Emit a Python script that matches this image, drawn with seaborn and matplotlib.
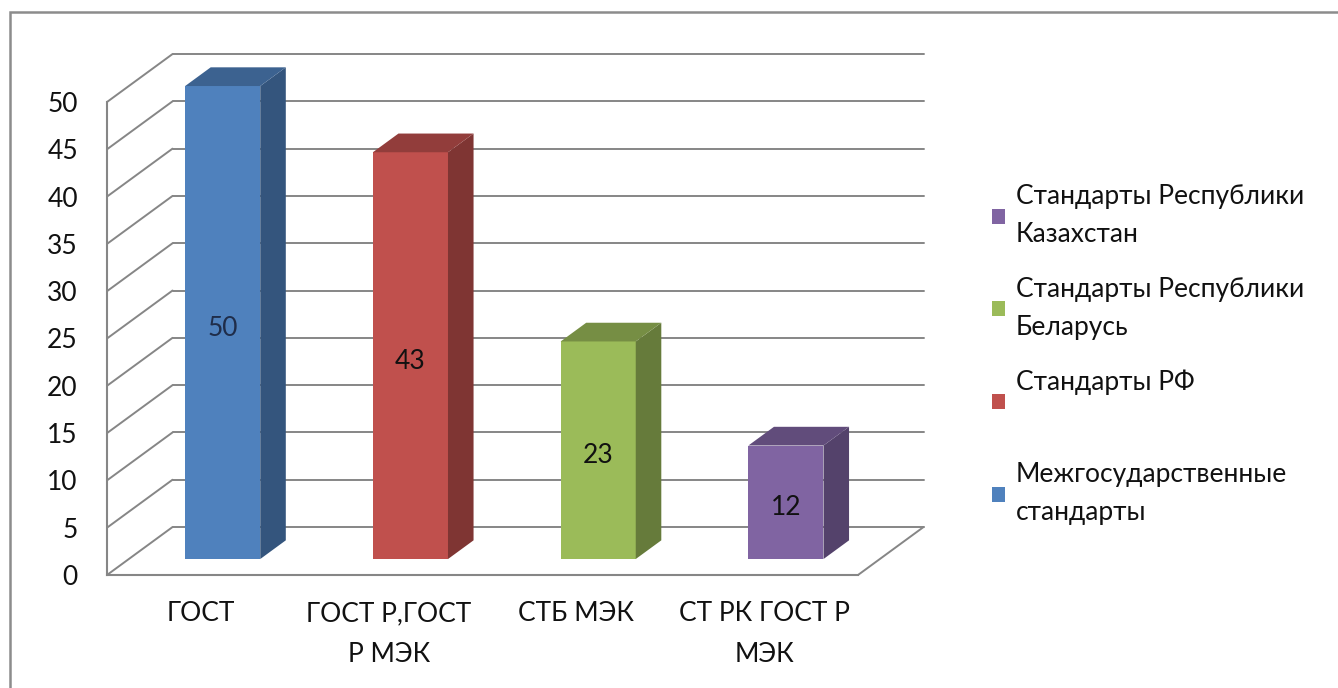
import matplotlib
matplotlib.use("Agg")
import matplotlib.pyplot as plt
import matplotlib.transforms as mtransforms
from matplotlib.patches import Polygon, Rectangle, Patch
import seaborn as sns
import pandas as pd

# данные
categories = ["ГОСТ", "ГОСТ Р,ГОСТ\nР МЭК", "СТБ МЭК", "СТ РК ГОСТ Р\nМЭК"]
values = [50, 43, 23, 12]
series = ["Межгосударственные\nстандарты", "Стандарты РФ\n",
          "Стандарты Республики\nБеларусь", "Стандарты Республики\nКазахстан"]
colors = ["#4F81BD", "#C0504D", "#9BBB59", "#8064A2"]
yticks = list(range(0, 55, 5))

df = pd.DataFrame({"cat": categories, "val": values, "ser": series})

sns.set_style("white")
plt.rcParams["font.family"] = ["Lato", "DejaVu Sans"]

GRID = "#868686"
TXT = "#111111"
FS = 19
DX, DY = 0.349, 5.07     # глубина "3D" в единицах данных
D0, BD = 0.333, 0.39     # положение и толщина столбцов по глубине

fig = plt.figure(figsize=(13.38, 6.88), dpi=100)
ax = fig.add_axes([107 / 1338, 113 / 688, 751 / 1338, 473 / 688])

sns.barplot(data=df, x="cat", y="val", hue="ser", hue_order=series,
            palette=colors, dodge=False, width=0.40, saturation=1,
            linewidth=0, legend=False, ax=ax, zorder=3)
ax.set_xlim(-0.5, len(categories) - 0.5)
ax.set_ylim(0, 50)

shift = mtransforms.Affine2D().translate(D0 * DX, D0 * DY) + ax.transData
back = mtransforms.Affine2D().translate(DX, DY) + ax.transData


def darker(c, k):
    r, g, b = matplotlib.colors.to_rgb(c)
    return (r * k, g * k, b * k)


# столбцы: лицевая, боковая и верхняя грани
for i, cont in enumerate(ax.containers):
    col = colors[i]
    for p in cont:
        h = p.get_height()
        if not h or h != h:
            continue
        p.set_transform(shift)
        p.set_clip_on(False)
        x0, w = p.get_x(), p.get_width()
        side = [(x0 + w, 0), (x0 + w, h), (x0 + w + BD * DX, h + BD * DY), (x0 + w + BD * DX, BD * DY)]
        top = [(x0, h), (x0 + w, h), (x0 + w + BD * DX, h + BD * DY), (x0 + BD * DX, h + BD * DY)]
        ax.add_patch(Polygon(side, closed=True, fc=darker(col, 0.66), ec="none",
                             transform=shift, clip_on=False, zorder=3))
        ax.add_patch(Polygon(top, closed=True, fc=darker(col, 0.76), ec="none",
                             transform=shift, clip_on=False, zorder=3))
        ax.text(x0 + w / 2, h / 2 - 0.6, f"{h:.0f}", transform=shift, ha="center", va="center",
                fontsize=FS, color="#1f2d4a" if i == 0 else TXT, zorder=4)

# сетка на задней стенке и боковой стенке
x_left, x_right = ax.get_xlim()
for v in yticks:
    ax.plot([x_left, x_right], [v, v], transform=back, color=GRID, lw=1.4,
            clip_on=False, zorder=1)
    ax.plot([x_left, x_left + DX], [v, v + DY], color=GRID, lw=1.4,
            clip_on=False, zorder=1)
ax.plot([x_right, x_right + DX], [0, DY], color=GRID, lw=1.4, clip_on=False, zorder=1)

# оси
for s in ["top", "right"]:
    ax.spines[s].set_visible(False)
for s in ["left", "bottom"]:
    ax.spines[s].set_color(GRID)
    ax.spines[s].set_linewidth(1.5)
ax.set_yticks(yticks)
ax.tick_params(axis="y", direction="out", length=7, width=1.5, color=GRID,
               pad=14, labelsize=FS, labelcolor=TXT)
ax.set_xticks(range(len(categories)))
ax.set_xticklabels(categories, fontsize=FS, color=TXT, linespacing=1.8)
ax.tick_params(axis="x", length=0, pad=19)
ax.set_xticks([k - 0.5 for k in range(len(categories) + 1)], minor=True)
ax.tick_params(axis="x", which="minor", direction="out", length=7, width=1.5, color=GRID)
ax.set_xlabel("")
ax.set_ylabel("")
ax.set_facecolor("none")

# легенда (в обратном порядке, как в Excel)
handles = [Patch(fc=c, ec="none") for c in colors][::-1]
leg = fig.legend(handles, series[::-1], loc="upper left",
                 bbox_to_anchor=(992 / 1338, 1 - 184 / 688), frameon=False,
                 fontsize=FS, handlelength=0.5, handleheight=0.5,
                 handletextpad=0.4, labelspacing=1.12, borderpad=0,
                 borderaxespad=0)
for t in leg.get_texts():
    t.set_linespacing(1.65)
    t.set_color(TXT)

# рамка диаграммы
fig.patches.append(Rectangle((10 / 1338, -0.1), 1.2, 1 - 12 / 688 + 0.1,
                             transform=fig.transFigure, fill=False,
                             ec="#8c8c8c", lw=1.8))

fig.savefig("out.png", dpi=100)
